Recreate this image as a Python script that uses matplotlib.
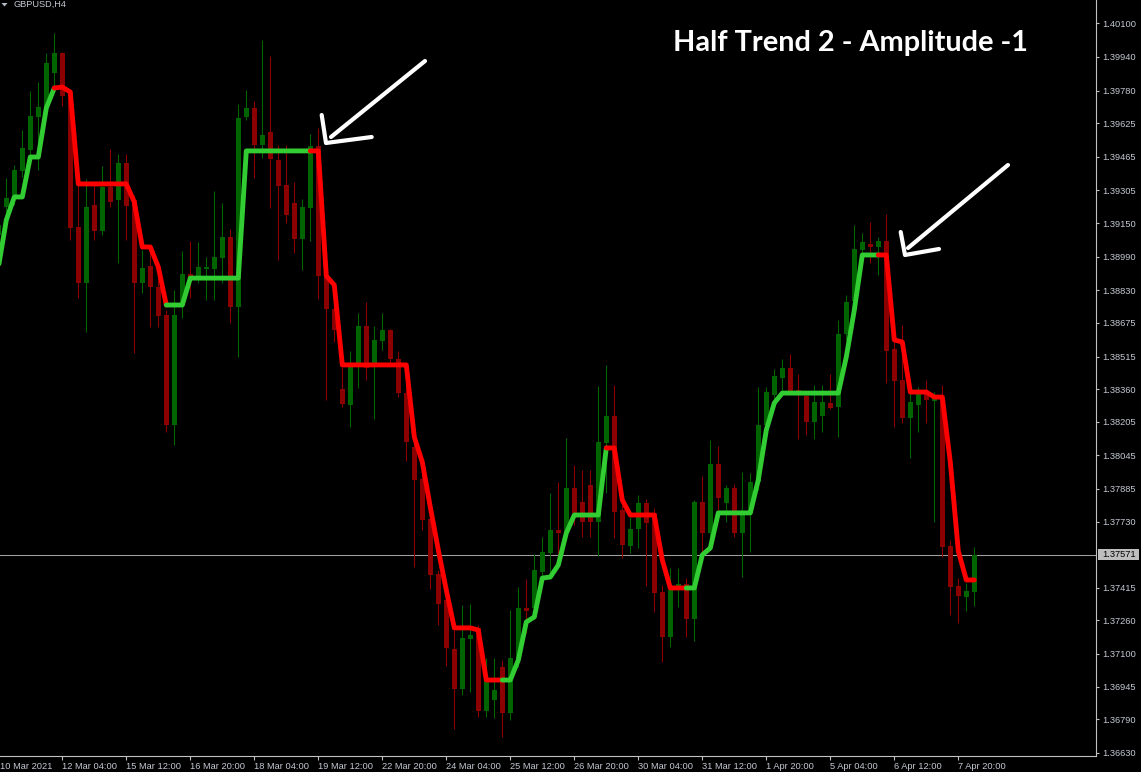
import numpy as np
import matplotlib
matplotlib.use('Agg')
import matplotlib.pyplot as plt
from matplotlib.lines import Line2D
from matplotlib.patches import Rectangle, Polygon
import matplotlib.transforms as mtransforms

plt.rcParams['font.family'] = ['Liberation Sans', 'DejaVu Sans']

# ---------------- data (GBPUSD H4, bars from 10 Mar 20:00 to 8 Apr 04:00) ----------------
first_bar = -1
opens = [1.39093, 1.39226, 1.39283, 1.39397, 1.39497, 1.39654, 1.39702, 1.39864, 1.39959, 1.39773,
         1.39131, 1.38865, 1.39236, 1.39112, 1.39321, 1.39260, 1.39436, 1.39260, 1.38865, 1.38946,
         1.38846, 1.38712, 1.38189, 1.38760, 1.38907, 1.38893, 1.38931, 1.38931, 1.38984, 1.39083,
         1.38750, 1.39654, 1.39697, 1.39521, 1.39583, 1.39450, 1.39331, 1.39245, 1.39074, 1.39221,
         1.39516, 1.38893, 1.38741, 1.38360, 1.38284, 1.38484, 1.38660, 1.38484, 1.38589, 1.38641,
         1.38503, 1.38341, 1.38085, 1.37932, 1.37742, 1.37480, 1.37357, 1.37124, 1.36933, 1.37171,
         1.37224, 1.36829, 1.36881, 1.37038, 1.36819, 1.37081, 1.37319, 1.37319, 1.37490, 1.37580,
         1.37690, 1.37680, 1.37889, 1.37823, 1.37904, 1.37728, 1.38104, 1.38232, 1.37785, 1.37614,
         1.37694, 1.37818, 1.37771, 1.37395, 1.37181, 1.37419, 1.37433, 1.37266, 1.37823, 1.37675,
         1.38004, 1.37818, 1.37889, 1.37675, 1.37771, 1.37918, 1.38189, 1.38332, 1.38413, 1.38460,
         1.38356, 1.38327, 1.38203, 1.38232, 1.38294, 1.38275, 1.38622, 1.38779, 1.39022, 1.39050,
         1.39036, 1.39064, 1.38551, 1.38403, 1.38222, 1.38284, 1.38337, 1.38303, 1.38313, 1.37614,
         1.37423, 1.37371, 1.37395]
highs = [1.39188, 1.39364, 1.39426, 1.39592, 1.39778, 1.39821, 1.39959, 1.40054, 1.39962, 1.39783,
         1.39340, 1.39359, 1.39340, 1.39421, 1.39502, 1.39478, 1.39478, 1.39283, 1.39022, 1.39036,
         1.38912, 1.38736, 1.38831, 1.39017, 1.39064, 1.39060, 1.38988, 1.39302, 1.39245, 1.39122,
         1.39716, 1.39783, 1.39730, 1.40021, 1.39945, 1.39521, 1.39521, 1.39345, 1.39264, 1.39573,
         1.39602, 1.38927, 1.38784, 1.38465, 1.38541, 1.38722, 1.38774, 1.38660, 1.38722, 1.38646,
         1.38541, 1.38475, 1.38118, 1.37999, 1.37785, 1.37499, 1.37380, 1.37214, 1.37333, 1.37338,
         1.37238, 1.37081, 1.37081, 1.37071, 1.37309, 1.37419, 1.37457, 1.37576, 1.37656, 1.37866,
         1.37918, 1.38127, 1.37999, 1.37975, 1.37975, 1.38375, 1.38475, 1.38379, 1.37809, 1.37752,
         1.37856, 1.37837, 1.37794, 1.37428, 1.37509, 1.37509, 1.37461, 1.37832, 1.37947, 1.38118,
         1.38089, 1.37904, 1.37909, 1.37966, 1.37961, 1.38370, 1.38370, 1.38456, 1.38503, 1.38527,
         1.38432, 1.38332, 1.38379, 1.38379, 1.38432, 1.38689, 1.38808, 1.39141, 1.39103, 1.39155,
         1.39083, 1.39193, 1.38594, 1.38665, 1.38341, 1.38370, 1.38403, 1.38346, 1.38379, 1.37642,
         1.37461, 1.37438, 1.37609]
lows = [1.39045, 1.39188, 1.39236, 1.39369, 1.39464, 1.39402, 1.39688, 1.39783, 1.39707, 1.39069,
        1.38793, 1.38632, 1.39069, 1.39093, 1.39226, 1.38960, 1.39069, 1.38532, 1.38817, 1.38655,
        1.38655, 1.38156, 1.38094, 1.38698, 1.38793, 1.38865, 1.38784, 1.38784, 1.38865, 1.38674,
        1.38513, 1.39640, 1.39364, 1.39459, 1.39221, 1.38974, 1.39150, 1.39007, 1.38927, 1.39064,
        1.38789, 1.38308, 1.38584, 1.38275, 1.38180, 1.38365, 1.38403, 1.38218, 1.38546, 1.38489,
        1.38322, 1.38018, 1.37514, 1.37690, 1.37409, 1.37238, 1.37043, 1.36743, 1.36905, 1.36919,
        1.36800, 1.36800, 1.36795, 1.36705, 1.36786, 1.37038, 1.37200, 1.37295, 1.37466, 1.37490,
        1.37561, 1.37675, 1.37713, 1.37656, 1.37656, 1.37566, 1.37866, 1.37652, 1.37556, 1.37580,
        1.37604, 1.37423, 1.37300, 1.37062, 1.37133, 1.37323, 1.37181, 1.37162, 1.37547, 1.37609,
        1.37785, 1.37728, 1.37656, 1.37466, 1.37585, 1.37880, 1.38165, 1.38308, 1.38351, 1.38341,
        1.38123, 1.38142, 1.38123, 1.38156, 1.38265, 1.38132, 1.38594, 1.38760, 1.38950, 1.38960,
        1.38903, 1.38389, 1.38180, 1.38199, 1.38032, 1.38156, 1.38199, 1.37728, 1.37561, 1.37285,
        1.37247, 1.37304, 1.37328]
closes = [1.39141, 1.39269, 1.39402, 1.39507, 1.39659, 1.39702, 1.39911, 1.39959, 1.39754, 1.39126,
          1.38865, 1.39226, 1.39112, 1.39321, 1.39250, 1.39436, 1.39231, 1.38865, 1.38936, 1.38846,
          1.38708, 1.38189, 1.38712, 1.38907, 1.38893, 1.38941, 1.38941, 1.38988, 1.39083, 1.38750,
          1.39650, 1.39697, 1.39521, 1.39569, 1.39455, 1.39326, 1.39188, 1.39074, 1.39226, 1.39516,
          1.38898, 1.38741, 1.38641, 1.38289, 1.38484, 1.38660, 1.38460, 1.38594, 1.38641, 1.38503,
          1.38341, 1.38108, 1.37928, 1.37737, 1.37476, 1.37338, 1.37128, 1.36933, 1.37176, 1.37190,
          1.36829, 1.36981, 1.36929, 1.36819, 1.37081, 1.37319, 1.37304, 1.37499, 1.37585, 1.37690,
          1.37675, 1.37889, 1.37771, 1.37728, 1.37728, 1.38108, 1.38232, 1.37775, 1.37618, 1.37694,
          1.37818, 1.37723, 1.37390, 1.37181, 1.37404, 1.37433, 1.37266, 1.37823, 1.37675, 1.38004,
          1.37842, 1.37889, 1.37675, 1.37771, 1.37918, 1.38189, 1.38346, 1.38422, 1.38460, 1.38351,
          1.38346, 1.38203, 1.38299, 1.38299, 1.38270, 1.38622, 1.38774, 1.39026, 1.39060, 1.39036,
          1.39064, 1.38541, 1.38398, 1.38222, 1.38299, 1.38337, 1.38308, 1.38318, 1.37609, 1.37419,
          1.37376, 1.37400, 1.37571]

halftrend = [1.38936, 1.39164, 1.39274, 1.39274, 1.39464, 1.39464, 1.39697, 1.39792, 1.39797, 1.39773,
             1.39336, 1.39336, 1.39336, 1.39336, 1.39336, 1.39336, 1.39336, 1.39250, 1.39036, 1.39036,
             1.38941, 1.38760, 1.38760, 1.38760, 1.38888, 1.38888, 1.38888, 1.38888, 1.38888, 1.38888,
             1.38888, 1.39493, 1.39493, 1.39493, 1.39493, 1.39493, 1.39493, 1.39493, 1.39493, 1.39493,
             1.39493, 1.38898, 1.38855, 1.38475, 1.38475, 1.38475, 1.38475, 1.38475, 1.38475, 1.38475,
             1.38475, 1.38475, 1.38132, 1.38013, 1.37799, 1.37595, 1.37404, 1.37224, 1.37224, 1.37224,
             1.37214, 1.36976, 1.36976, 1.36976, 1.36976, 1.37071, 1.37252, 1.37276, 1.37461, 1.37466,
             1.37523, 1.37675, 1.37761, 1.37761, 1.37761, 1.37761, 1.38080, 1.38080, 1.37832, 1.37761,
             1.37761, 1.37761, 1.37761, 1.37547, 1.37414, 1.37414, 1.37414, 1.37414, 1.37571, 1.37604,
             1.37771, 1.37771, 1.37771, 1.37771, 1.37771, 1.37928, 1.38165, 1.38294, 1.38341, 1.38341,
             1.38341, 1.38341, 1.38341, 1.38341, 1.38341, 1.38341, 1.38513, 1.38736, 1.38998, 1.38998,
             1.38998, 1.38998, 1.38594, 1.38584, 1.38346, 1.38346, 1.38346, 1.38322, 1.38322, 1.38013,
             1.37590, 1.37452, 1.37452]
# u = up trend (green), d = down trend (red)
trend = ("uuuuuuuu" "dddddddddddddd" "uuuuuuuuuuuuuuuuuu" "dddddddddddddddddddddddd"
         "uuuuuuuuuuuuu" "dddddddddd" "uuuuuuuuuuuuuuuuuuuuuuuu" "dddddddddddd")

x_tick_bars = [7, 15, 23, 31, 39, 47, 55, 63, 71, 79, 87, 95, 103, 111, 119]
x_tick_labels = ['12 Mar 04:00', '15 Mar 12:00', '16 Mar 20:00', '18 Mar 04:00', '19 Mar 12:00',
                 '22 Mar 20:00', '24 Mar 04:00', '25 Mar 12:00', '26 Mar 20:00', '30 Mar 04:00',
                 '31 Mar 12:00', '1 Apr 20:00', '5 Apr 04:00', '6 Apr 12:00', '7 Apr 20:00']
first_label = '10 Mar 2021'
y_ticks = [1.40100, 1.39940, 1.39780, 1.39625, 1.39465, 1.39305, 1.39150, 1.38990, 1.38830, 1.38675,
           1.38515, 1.38360, 1.38205, 1.38045, 1.37885, 1.37730, 1.37415, 1.37260, 1.37100, 1.36945,
           1.36790, 1.36630]
y_tick_labels = ['1.40100', '1.39940', '1.39780', '1.39625', '1.39465', '1.39305', '1.39150', '1.38990',
                 '1.38830', '1.38675', '1.38515', '1.38360', '1.38205', '1.38045', '1.37885', '1.37730',
                 '1.37415', '1.37260', '1.37100', '1.36945', '1.36790', '1.36630']
last_price = 1.37571
last_price_label = '1.37571'
symbol = 'GBPUSD,H4'
title = 'Half Trend 2 - Amplitude -1'

# ---------------- styling ----------------
W, H = 1141, 772
BULL, BEAR = '#006400', '#8b0000'
UPLINE, DNLINE = '#32cd32', '#ff0000'
AXC = '#c0c0c0'
TXT = '#c4c8d2'

fig = plt.figure(figsize=(W / 100, H / 100), dpi=100, facecolor='black')
ax = fig.add_axes([0, 16 / H, 1096 / W, 756 / H])
ax.set_facecolor('black')
ax.set_xlim(-0.7875, 136.2125)
ax.set_ylim(1.366146, 1.402109)


def fig_xy(px, py):
    return px / W, 1 - py / H


o = np.array(opens); hi = np.array(highs); lo = np.array(lows); c = np.array(closes)
x = np.arange(len(opens)) + first_bar
cols = np.where(c >= o, BULL, BEAR)

ax.axhline(last_price, color='#a0a0a0', lw=0.75, zorder=1)
ax.vlines(x, lo, hi, colors=cols, linewidth=0.8, zorder=2)
ax.bar(x, np.maximum(np.abs(c - o), 0.00004), bottom=np.minimum(o, c), width=0.62,
       color=cols, linewidth=0, zorder=3)

# half trend line, coloured by trend; each run starts from the previous bar
ht = np.array(halftrend)
n = len(ht)
i = 0
while i < n:
    j = i
    while j + 1 < n and trend[j + 1] == trend[i]:
        j += 1
    s = max(i - 1, 0)
    ax.plot(x[s:j + 1], ht[s:j + 1], color=UPLINE if trend[i] == 'u' else DNLINE, lw=3.5,
            solid_capstyle='round', solid_joinstyle='round', zorder=4)
    i = j + 1

# axes frame
for sname in ['left', 'top']:
    ax.spines[sname].set_visible(False)
for sname in ['right', 'bottom']:
    ax.spines[sname].set_color(AXC)
    ax.spines[sname].set_linewidth(0.8)

ax.yaxis.tick_right()
ax.set_yticks(y_ticks)
ax.set_yticklabels(y_tick_labels)
ax.tick_params(axis='y', direction='out', length=2.4, width=0.8, color=AXC, labelcolor=TXT,
               labelsize=6.7, pad=2.0)
ax.set_xticks(x_tick_bars)
ax.set_xticklabels([''] * len(x_tick_bars))
ax.tick_params(axis='x', direction='out', length=2.9, width=0.8, color=AXC)

xt = mtransforms.blended_transform_factory(ax.transData, ax.transAxes)
ylab = -10.5 / 756
for b, lab in zip(x_tick_bars, x_tick_labels):
    ax.text(b, ylab, lab, transform=xt, ha='left', va='center', fontsize=6.7, color=TXT, clip_on=False)
ax.text(first_bar + 0.2, ylab, first_label, transform=xt, ha='left', va='center', fontsize=6.7,
        color=TXT, clip_on=False)

# current price box
yd = ax.transData.transform((0, last_price))[1]
fig.patches.append(Rectangle((1098 / W, (yd - 5.5) / H), 41 / W, 11 / H, transform=fig.transFigure,
                             facecolor='#bebebe', edgecolor='none', zorder=5))
fig.text(1102 / W, yd / H, last_price_label, ha='left', va='center', fontsize=6.7, color='black', zorder=6)

# symbol label
fig.patches.append(Polygon([fig_xy(1.5, 3), fig_xy(7.5, 3), fig_xy(4.5, 6.5)], closed=True,
                           transform=fig.transFigure, facecolor='#b8bcc4', edgecolor='none'))
fig.text(13 / W, 1 - 4 / H, symbol, ha='left', va='center', fontsize=6.6, color=TXT)

# title
t = fig.text(850.5 / W, 1 - 51 / H, title, ha='center', va='baseline', color='white', fontsize=20,
             fontweight='bold', fontfamily=['Lato', 'DejaVu Sans'])
fig.canvas.draw()
bb = t.get_window_extent()
t.set_fontsize(20 * 355 / bb.width)

# hand-drawn annotation arrows
arrows = [
    [[(425, 61), (331, 137)], [(321.7, 115), (326, 143), (371.7, 137)]],
    [[(1008, 165), (908, 248)], [(900.7, 232), (905, 255), (939, 249)]],
]
for arrow in arrows:
    for stroke in arrow:
        pts = [fig_xy(px, py) for px, py in stroke]
        fig.add_artist(Line2D([p[0] for p in pts], [p[1] for p in pts], transform=fig.transFigure,
                              color='white', lw=3.0, solid_capstyle='round', solid_joinstyle='round',
                              zorder=10))

fig.savefig('out.png', dpi=100, facecolor='black')
